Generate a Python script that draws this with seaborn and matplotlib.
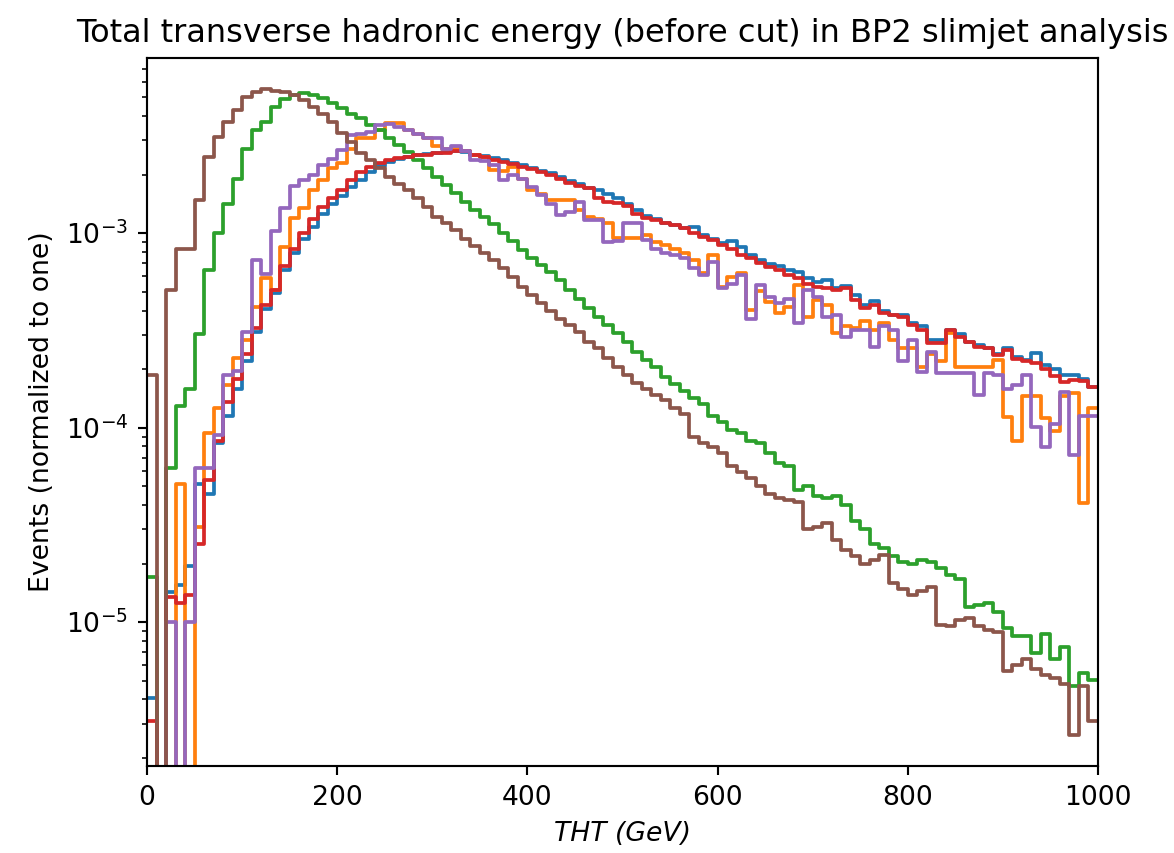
import numpy as np
import pandas as pd
import seaborn as sns
import matplotlib.pyplot as plt

# 100 bins of 10 GeV from 0 to 1000
bin_centres = np.arange(5, 1000, 10)

# log10(events, normalized to one); None = empty bin
blue_log = [-5.39, None, -4.844, -4.81, -4.71, -4.29, -4.34, -4.08, -3.94, -3.80,
            -3.66, -3.51, -3.39, -3.31, -3.19, -3.10, -3.03, -2.97, -2.90, -2.85,
            -2.81, -2.765, -2.725, -2.685, -2.655, -2.635, -2.62, -2.61, -2.60, -2.595,
            -2.59, -2.585, -2.58, -2.585, -2.60, -2.605, -2.615, -2.625, -2.64, -2.65,
            -2.665, -2.68, -2.69, -2.71, -2.73, -2.745, -2.77, -2.78, -2.80, -2.82,
            -2.85, -2.88, -2.91, -2.93, -2.95, -2.96, -2.975, -2.97, -3.01, -3.03,
            -3.05, -3.04, -3.07, -3.11, -3.14, -3.16, -3.17, -3.19, -3.20, -3.23,
            -3.25, -3.24, -3.28, -3.27, -3.32, -3.37, -3.35, -3.40, -3.42, -3.42,
            -3.46, -3.48, -3.55, -3.55, -3.50, -3.52, -3.56, -3.575, -3.59, -3.62,
            -3.59, -3.635, -3.65, -3.617, -3.68, -3.70, -3.73, -3.73, -3.75, -3.79]

orange_log = [None, None, None, -4.29, None, -4.51, -4.03, -3.90, -3.78, -3.64,
              -3.55, -3.38, -3.23, -3.29, -3.07, -2.92, -2.873, -2.78, -2.727, -2.667,
              -2.642, -2.565, -2.513, -2.51, -2.47, -2.436, -2.436, -2.47, -2.49, -2.513,
              -2.55, -2.565, -2.57, -2.58, -2.60, -2.61, -2.676, -2.68, -2.66, -2.72,
              -2.78, -2.80, -2.83, -2.83, -2.83, -2.88, -2.916, -2.93, -2.95, -3.027,
              -3.027, -3.027, -3.01, -3.045, -3.06, -3.08, -3.10, -3.139, -3.207, -3.113,
              -3.276, -3.225, -3.207, -3.396, -3.30, -3.353, -3.413, -3.38, -3.267, -3.43,
              -3.344, -3.37, -3.515, -3.48, -3.49, -3.45, -3.50, -3.46, -3.55, -3.59,
              -3.59, -3.687, -3.62, -3.66, -3.516, -3.687, -3.687, -3.687, -3.687, -3.65,
              -3.944, -4.07, -3.84, -3.84, -3.953, -4.02, -3.84, -3.82, -4.39, -3.90]

green_log = [-4.77, None, -4.21, -3.89, -3.80, -3.52, -3.19, -3.00, -2.85, -2.72,
             -2.565, -2.47, -2.43, -2.35, -2.31, -2.29, -2.282, -2.29, -2.307, -2.333,
             -2.359, -2.385, -2.41, -2.445, -2.47, -2.513, -2.548, -2.582, -2.625, -2.667,
             -2.71, -2.753, -2.796, -2.84, -2.882, -2.916, -2.955, -3.00, -3.04, -3.085,
             -3.13, -3.165, -3.20, -3.24, -3.29, -3.34, -3.385, -3.43, -3.47, -3.515,
             -3.56, -3.61, -3.65, -3.69, -3.74, -3.775, -3.81, -3.85, -3.88, -3.94,
             -3.97, -4.01, -4.03, -4.07, -4.08, -4.13, -4.18, -4.20, -4.32, -4.30,
             -4.35, -4.36, -4.35, -4.40, -4.48, -4.52, -4.60, -4.62, -4.66, -4.69,
             -4.70, -4.68, -4.69, -4.72, -4.76, -4.78, -4.92, -4.91, -4.90, -4.95,
             -5.03, -5.07, -5.07, -5.16, -5.06, -5.19, -5.13, -5.33, -5.26, -5.30]

red_log = [-5.51, None, -4.87, -4.90, -4.86, -4.60, -4.27, -4.07, -3.87, -3.75,
           -3.62, -3.49, -3.37, -3.29, -3.17, -3.08, -3.00, -2.93, -2.866, -2.82,
           -2.78, -2.727, -2.685, -2.66, -2.64, -2.625, -2.616, -2.61, -2.60, -2.60,
           -2.59, -2.59, -2.58, -2.58, -2.60, -2.61, -2.625, -2.633, -2.645, -2.66,
           -2.67, -2.685, -2.70, -2.72, -2.74, -2.76, -2.77, -2.822, -2.84, -2.847,
           -2.86, -2.90, -2.92, -2.933, -2.95, -2.96, -2.976, -3.00, -3.02, -3.036,
           -3.06, -3.08, -3.113, -3.13, -3.156, -3.173, -3.19, -3.216, -3.233, -3.26,
           -3.276, -3.28, -3.29, -3.284, -3.344, -3.387, -3.37, -3.41, -3.42, -3.43,
           -3.473, -3.50, -3.567, -3.567, -3.50, -3.533, -3.56, -3.585, -3.59, -3.627,
           -3.60, -3.645, -3.66, -3.67, -3.70, -3.736, -3.765, -3.756, -3.76, -3.79]

purple_log = [None, None, -5.0, None, -5.0, -4.21, -4.21, -4.04, -3.73, -3.71,
              -3.51, -3.14, -3.21, -2.99, -2.87, -2.76, -2.727, -2.70, -2.65, -2.62,
              -2.573, -2.496, -2.49, -2.48, -2.445, -2.44, -2.455, -2.47, -2.49, -2.513,
              -2.51, -2.565, -2.55, -2.58, -2.625, -2.63, -2.65, -2.727, -2.70, -2.72,
              -2.762, -2.805, -2.85, -2.907, -2.89, -2.84, -2.933, -2.933, -3.045, -3.04,
              -2.95, -2.95, -3.036, -3.08, -3.10, -3.113, -3.13, -3.18, -3.216, -3.15,
              -3.284, -3.26, -3.216, -3.44, -3.267, -3.327, -3.36, -3.34, -3.464, -3.293,
              -3.33, -3.43, -3.42, -3.533, -3.50, -3.50, -3.585, -3.48, -3.50, -3.66,
              -3.55, -3.713, -3.61, -3.72, -3.72, -3.72, -3.72, -3.833, -3.72, -3.73,
              -3.80, -3.78, -3.73, -3.996, -4.10, -3.98, -3.816, -4.14, -3.94, -3.94]

brown_log = [-3.73, None, -3.29, -3.08, -3.08, -2.83, -2.61, -2.506, -2.43, -2.368,
             -2.30, -2.275, -2.26, -2.268, -2.275, -2.29, -2.316, -2.35, -2.385, -2.428,
             -2.487, -2.53, -2.59, -2.625, -2.667, -2.71, -2.745, -2.78, -2.822, -2.865,
             -2.916, -2.95, -2.985, -3.03, -3.065, -3.10, -3.14, -3.18, -3.225, -3.276,
             -3.32, -3.36, -3.40, -3.44, -3.47, -3.51, -3.56, -3.59, -3.64, -3.69,
             -3.73, -3.77, -3.80, -3.83, -3.86, -3.90, -3.93, -4.05, -4.08, -4.10,
             -4.13, -4.20, -4.23, -4.26, -4.30, -4.34, -4.36, -4.37, -4.38, -4.52,
             -4.51, -4.49, -4.58, -4.63, -4.66, -4.70, -4.68, -4.655, -4.80, -4.83,
             -4.86, -4.84, -4.82, -5.015, -5.02, -4.99, -4.98, -5.02, -5.04, -5.05,
             -5.25, -5.22, -5.19, -5.24, -5.27, -5.29, -5.32, -5.58, -5.33, -5.51]

series = [("tab:blue", blue_log), ("tab:orange", orange_log), ("tab:green", green_log),
          ("tab:red", red_log), ("tab:purple", purple_log), ("tab:brown", brown_log)]


def to_frame(logs):
    w = [0.0 if v is None else 10 ** v for v in logs]
    return pd.DataFrame({"tht": bin_centres, "w": w})


W, H, DPI = 1174, 853, 192
fig = plt.figure(figsize=(W / DPI, H / DPI), dpi=DPI)
ax = fig.add_axes([147 / W, 1 - 766 / H, 951 / W, 708 / H])
ax.set_yscale("log")

for colour, logs in series:
    sns.histplot(data=to_frame(logs), x="tht", weights="w", binwidth=10,
                 binrange=(0, 1000), element="step", fill=False, color=colour,
                 linewidth=1.4, ax=ax)

ax.set_xlim(0, 1000)
ax.set_ylim(1.82e-6, 7.95e-3)
ax.set_title("Total transverse hadronic energy (before cut) in BP2 slimjet analysis",
             fontsize=12)
ax.set_xlabel("THT (GeV)", style="italic")
ax.set_ylabel("Events (normalized to one)")

fig.savefig("out.png", dpi=DPI)
